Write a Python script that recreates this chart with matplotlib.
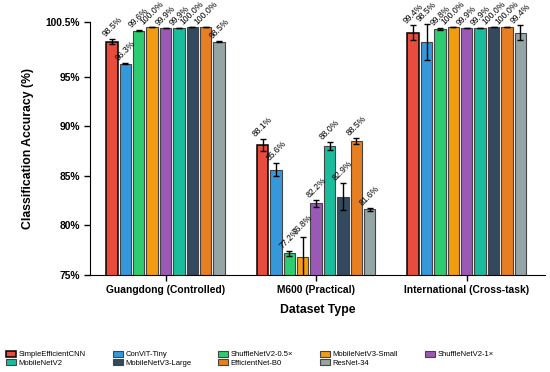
import matplotlib
matplotlib.use("Agg")
import matplotlib.pyplot as plt
import numpy as np

plt.rcParams['font.family'] = ['Liberation Sans', 'DejaVu Sans']

datasets = ["Guangdong (Controlled)", "M600 (Practical)", "International (Cross-task)"]
models = ["SimpleEfficientCNN", "ConViT-Tiny", "ShuffleNetV2-0.5×", "MobileNetV3-Small",
          "ShuffleNetV2-1×", "MobileNetV2", "MobileNetV3-Large", "EfficientNet-B0", "ResNet-34"]
colors = ["#e74c3c", "#3498db", "#2ecc71", "#f39c12", "#9b59b6",
          "#1abc9c", "#34495e", "#e67e22", "#95a5a6"]

# accuracy per model: [Guangdong, M600, International]
acc = {
    "SimpleEfficientCNN": [98.5, 88.1, 99.4],
    "ConViT-Tiny":        [96.3, 85.6, 98.5],
    "ShuffleNetV2-0.5×":  [99.6, 77.2, 99.8],
    "MobileNetV3-Small":  [100.0, 76.8, 100.0],
    "ShuffleNetV2-1×":    [99.9, 82.2, 99.9],
    "MobileNetV2":        [99.9, 88.0, 99.9],
    "MobileNetV3-Large":  [100.0, 82.9, 100.0],
    "EfficientNet-B0":    [100.0, 88.5, 100.0],
    "ResNet-34":          [98.5, 81.6, 99.4],
}
err = {
    "SimpleEfficientCNN": [0.25, 0.65, 0.75],
    "ConViT-Tiny":        [0.05, 0.67, 1.8],
    "ShuffleNetV2-0.5×":  [0.05, 0.25, 0.12],
    "MobileNetV3-Small":  [0.02, 2.0, 0.02],
    "ShuffleNetV2-1×":    [0.02, 0.33, 0.02],
    "MobileNetV2":        [0.02, 0.37, 0.02],
    "MobileNetV3-Large":  [0.02, 1.35, 0.02],
    "EfficientNet-B0":    [0.02, 0.34, 0.02],
    "ResNet-34":          [0.05, 0.15, 0.75],
}
yticks = [75, 80, 85, 90, 95, 100.5]

fig = plt.figure(figsize=(5.5, 3.72), dpi=100)
ax = fig.add_axes([0.164, 0.261, 0.827, 0.680])

x = np.arange(len(datasets))
n = len(models)
slot = 0.8 / n
w = slot * 0.85
handles = []
for i, m in enumerate(models):
    pos = x - 0.4 + slot * (i + 0.5)
    ec = "black" if i == 0 else "#444444"
    lw = 1.1 if i == 0 else 0.8
    b = ax.bar(pos, acc[m], w, color=colors[i], edgecolor=ec, linewidth=lw,
               yerr=err[m], capsize=2,
               error_kw=dict(elinewidth=1.0, capthick=1.0, ecolor="black"),
               label=m, zorder=2)
    handles.append(b)
    for p, v, e in zip(pos, acc[m], err[m]):
        ax.text(p, v + e + 0.05, f"{v:.1f}%", rotation=45, ha="center", va="bottom",
                fontsize=6.2, color="black", zorder=3)

ax.set_xlim(-0.5, 2.52)
ax.set_ylim(75, 100.5)
ax.set_yticks(yticks)
ax.set_yticklabels([f"{t:g}%" for t in yticks], fontsize=7.4, fontweight="bold")
ax.set_xticks(x)
ax.set_xticklabels(datasets, fontsize=7.4, fontweight="bold")
ax.set_xlabel("Dataset Type", fontsize=8.8, fontweight="bold", labelpad=6)
ax.set_ylabel("Classification Accuracy (%)", fontsize=8.8, fontweight="bold", labelpad=8)
ax.spines["top"].set_visible(False)
ax.spines["right"].set_visible(False)
ax.tick_params(axis="both", direction="out", length=4, width=1)

order = [0, 5, 1, 6, 2, 7, 3, 8, 4]
fig.legend([handles[k] for k in order], [models[k] for k in order],
           loc="lower left", bbox_to_anchor=(0.002, 0.0, 0.905, 0.1), mode="expand",
           ncol=5, frameon=False, fontsize=5.5, handlelength=1.3, handleheight=0.8,
           handletextpad=0.3, labelspacing=0.1, borderaxespad=0.3)

fig.savefig("out.png", dpi=100)
